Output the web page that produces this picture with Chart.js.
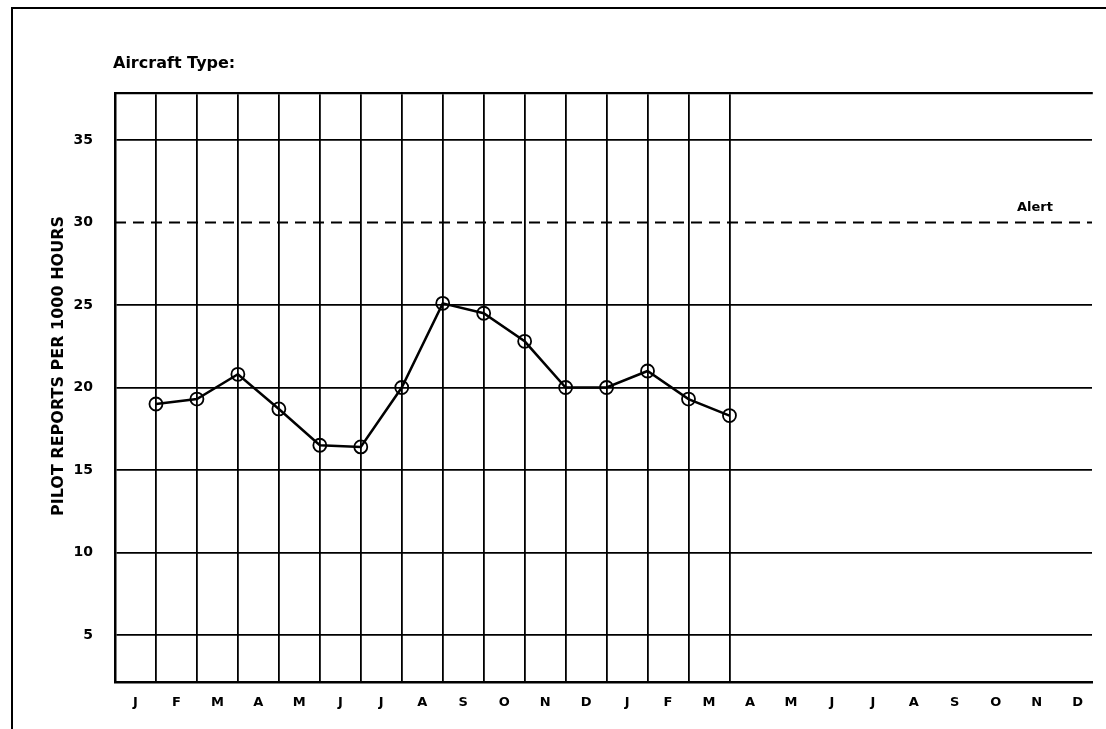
<!DOCTYPE html>
<html>
<head>
<meta charset="utf-8">
<script src="https://cdn.jsdelivr.net/npm/chart.js@4/dist/chart.umd.min.js"></script>
<style>
html,body{margin:0;padding:0;background:#fff;}
#wrap{position:relative;width:1106px;height:729px;}
</style>
</head>
<body>
<div id="wrap"><canvas id="c" width="1106" height="729"></canvas></div>
<script>
// ---- data ----
const monthLabels = ['J','F','M','A','M','J','J','A','S','O','N','D','J','F','M','A','M','J','J','A','S','O','N','D'];
const reportRates = [19.0, 19.3, 20.8, 18.7, 16.5, 16.4, 20.0, 25.1, 24.5, 22.8, 20.0, 20.0, 21.0, 19.3, 18.3];
const yTickValues = [5, 10, 15, 20, 25, 30, 35];
const alertLevel = 30;
const chartTitle = 'Aircraft Type:';
const yTitle = 'PILOT REPORTS PER 1000 HOURS';
const alertLabel = 'Alert';

// ---- style ----
const INK = '#000';
const FONT = "'DejaVu Sans', sans-serif";
const X_MAX = 23.85;
const Y_MIN = 2.15, Y_MAX = 37.85;

const ratePoints = reportRates.map((v, i) => ({ x: i + 1, y: v }));
const alertPoints = [{ x: 0, y: alertLevel }, { x: monthLabels.length, y: alertLevel }];

const decor = {
  id: 'decor',
  afterDraw(chart) {
    const { ctx, chartArea, scales } = chart;
    ctx.save();
    ctx.fillStyle = INK;
    // outer frame (left and top)
    ctx.fillRect(11, 7, 2, 722);
    ctx.fillRect(11, 7, 1095, 2);
    // title
    ctx.font = 'bold 16px ' + FONT;
    ctx.textAlign = 'left';
    ctx.textBaseline = 'alphabetic';
    ctx.fillText(chartTitle, chartArea.left - 2, chartArea.top - 25);
    // y title
    ctx.save();
    ctx.translate(chartArea.left - 56, 366);
    ctx.rotate(-Math.PI / 2);
    ctx.textAlign = 'center';
    ctx.textBaseline = 'middle';
    ctx.font = 'bold 16px ' + FONT;
    ctx.fillText(yTitle, 0, 0);
    ctx.restore();
    // alert label
    ctx.font = 'bold 13px ' + FONT;
    ctx.textAlign = 'right';
    ctx.textBaseline = 'alphabetic';
    ctx.fillText(alertLabel, chartArea.right - 39, scales.y.getPixelForValue(alertLevel) - 12);
    ctx.restore();
  }
};

new Chart(document.getElementById('c'), {
  type: 'line',
  data: {
    datasets: [
      {
        data: ratePoints,
        xAxisID: 'x', yAxisID: 'y',
        borderColor: INK, borderWidth: 2.5, tension: 0,
        pointRadius: 6.5, pointBorderWidth: 1.8,
        pointBorderColor: INK, pointBackgroundColor: 'rgba(0,0,0,0)'
      },
      {
        data: alertPoints,
        xAxisID: 'x', yAxisID: 'y',
        borderColor: INK, borderWidth: 2, borderDash: [11, 7],
        pointRadius: 0
      }
    ]
  },
  options: {
    responsive: false,
    animation: false,
    events: [],
    layout: { padding: { top: 93, right: 14, left: 0, bottom: 0 } },
    plugins: { legend: { display: false }, tooltip: { enabled: false }, title: { display: false } },
    scales: {
      x: {
        type: 'linear', position: 'top', min: 0, max: X_MAX,
        grid: { color: INK, lineWidth: 1.8, drawTicks: false },
        border: { display: true, color: INK, width: 2.2 },
        ticks: { display: false },
        afterBuildTicks: s => { s.ticks = Array.from({ length: reportRates.length + 1 }, (_, i) => ({ value: i })); },
        afterFit: s => { s.height = 0; }
      },
      x2: {
        type: 'linear', position: 'bottom', min: 0, max: X_MAX,
        grid: { display: false, drawTicks: false },
        border: { display: true, color: INK, width: 2.5 },
        ticks: {
          color: INK, font: { family: FONT, size: 13, weight: 'bold' },
          padding: 13, autoSkip: false, maxRotation: 0,
          callback: (v, i) => monthLabels[i]
        },
        afterBuildTicks: s => { s.ticks = monthLabels.map((_, i) => ({ value: i + 0.5 })); },
        afterFit: s => { s.height = 47; }
      },
      y: {
        type: 'linear', position: 'left', min: Y_MIN, max: Y_MAX,
        grid: {
          color: ctx => (ctx.tick && ctx.tick.value === alertLevel) ? 'rgba(0,0,0,0)' : INK,
          lineWidth: 1.8, drawTicks: false
        },
        border: { display: true, color: INK, width: 2.5 },
        ticks: {
          color: INK, font: { family: FONT, size: 14, weight: 'bold' },
          padding: 22, callback: v => String(v)
        },
        afterBuildTicks: s => { s.ticks = yTickValues.map(v => ({ value: v })); },
        afterFit: s => { s.width = 115; }
      }
    }
  },
  plugins: [decor]
});
</script>
</body>
</html>
